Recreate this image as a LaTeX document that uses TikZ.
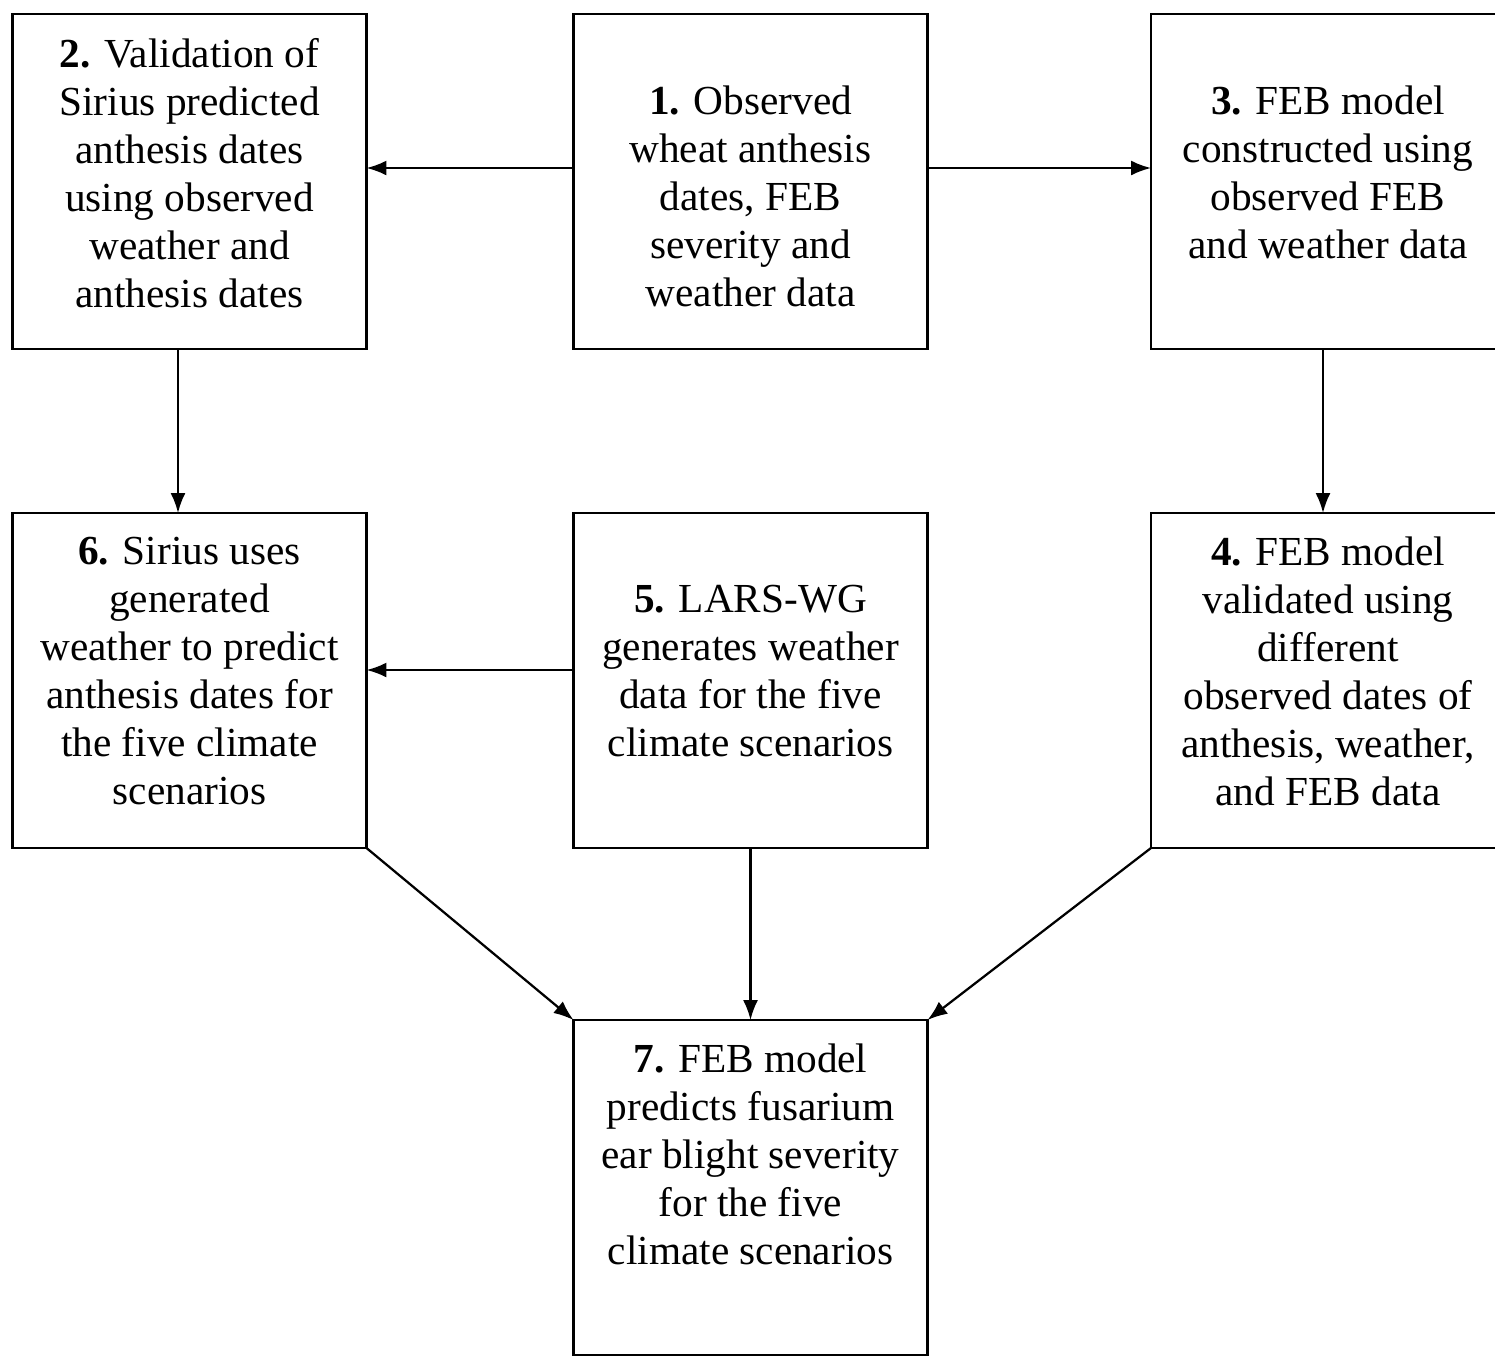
\documentclass[tikz,border=0pt]{standalone}
\usepackage{fontspec}
\setmainfont{Liberation Serif}
\usepackage{tikz}
\usetikzlibrary{arrows.meta,positioning,calc}

\begin{document}
\begin{tikzpicture}[x=0.02cm,y=-0.02cm,->,>={Latex[length=0.4cm,width=0.3cm]},
       line width=0.045cm,
       box/.style={draw, line width=0.055cm, minimum width=7.08cm, minimum height=6.7cm, inner sep=0pt, outer sep=0pt},
       txt/.style={anchor=north, align=center, inner sep=0pt, font=\fontsize{23.5}{27.3}\selectfont}]
      \useasboundingbox (0,0) rectangle (1495,1356);
      \clip (0,0) rectangle (1495,1356);
      \node[box] (b2) at (189.5, 181.5) {};
      \node[box] (b1) at (750.5, 181.5) {};
      \node[box] (b3) at (1328, 181.5) {};
      \node[box] (b6) at (189.5, 680.5) {};
      \node[box] (b5) at (750.5, 680.5) {};
      \node[box] (b4) at (1328, 680.5) {};
      \node[box] (b7) at (750.5, 1187.5) {};
      \node[txt, below=0.46cm of b2.north] (t2) {\textbf{2.} Validation of\\Sirius predicted\\anthesis dates\\using observed\\weather and\\anthesis dates};
      \node[txt, below=1.42cm of b1.north] (t1) {\textbf{1.} Observed\\wheat anthesis\\dates, FEB\\severity and\\weather data};
      \node[txt, below=1.42cm of b3.north] (t3) {\textbf{3.} FEB model\\constructed using\\observed FEB\\and weather data};
      \node[txt, below=0.46cm of b6.north] (t6) {\textbf{6.} Sirius uses\\generated\\weather to predict\\anthesis dates for\\the five climate\\scenarios};
      \node[txt, below=1.42cm of b5.north] (t5) {\textbf{5.} LARS-WG\\generates weather\\data for the five\\climate scenarios};
      \node[txt, below=0.46cm of b4.north] (t4) {\textbf{4.} FEB model\\validated using\\different\\observed dates of\\anthesis, weather,\\and FEB data};
      \node[txt, below=0.46cm of b7.north] (t7) {\textbf{7.} FEB model\\predicts fusarium\\ear blight severity\\for the five\\climate scenarios};
      % arrows
      \draw ([yshift=0.27cm]b1.west) -- ([yshift=0.27cm]b2.east);
      \draw ([yshift=0.27cm]b1.east) -- ([yshift=0.27cm]b3.west);
      \draw ([xshift=-0.23cm]b2.south) -- ([xshift=-0.23cm]b6.north);
      \draw ([xshift=-0.1cm]b3.south) -- ([xshift=-0.1cm]b4.north);
      \draw ([yshift=0.21cm]b5.west) -- ([yshift=0.21cm]b6.east);
      \draw (b5.south) -- (b7.north);
      \draw (b6.south east) -- (b7.north west);
      \draw (b4.south west) -- (b7.north east);
     \end{tikzpicture}
\end{document}
